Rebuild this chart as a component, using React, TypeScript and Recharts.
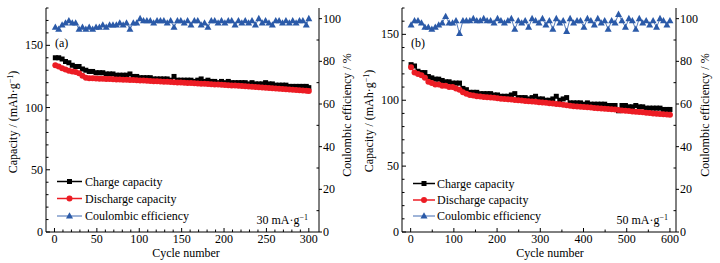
import { LineChart, Line, XAxis, YAxis, Legend } from "recharts";

const FONT = '"Liberation Serif", "Times New Roman", serif';
const INK = "#000000";
const RED = "#ec1c24";
const BLUE = "#2b5aa8";

// ---- (a) 30 mA/g, 300 cycles (every 4th cycle)
const cyclesA = [
  1, 5, 9, 13, 17, 21, 25, 29, 33, 37, 41, 45, 49, 53, 57, 61, 65, 69, 73, 77,
  81, 85, 89, 93, 97, 101, 105, 109, 113, 117, 121, 125, 129, 133, 137, 141, 145, 149, 153, 157,
  161, 165, 169, 173, 177, 181, 185, 189, 193, 197, 201, 205, 209, 213, 217, 221, 225, 229, 233, 237,
  241, 245, 249, 253, 257, 261, 265, 269, 273, 277, 281, 285, 289, 293, 297, 300,
];
const chargeA = [
  140, 140, 139, 137, 136, 134, 133, 133, 131, 130,
  129, 129, 128, 128, 128, 127, 127, 127, 126, 126,
  126, 126, 127, 125, 125, 124, 124, 124, 124, 123,
  123, 123, 123, 123, 122, 125, 122, 122, 122, 122,
  122, 121, 122, 123, 121, 122, 121, 121, 120, 121,
  120, 121, 120, 120, 120, 120, 120, 119, 120, 119,
  119, 119, 120, 119, 119, 118, 118, 118, 118, 117,
  117, 117, 117, 117, 117, 116,
];
const dischargeA = [
  134, 133, 131.5, 130.5, 129.5, 129, 128.5, 127.5, 125.5, 124,
  123.6, 123.5, 123.3, 123.2, 123.1, 123, 122.9, 122.8, 122.6, 122.5,
  122.4, 122.3, 122.2, 122.1, 122, 121.8, 121.7, 121.5, 121.4, 121.2,
  121.1, 121, 120.8, 120.7, 120.5, 120.4, 120.2, 120.1, 120, 119.8,
  119.7, 119.5, 119.4, 119.2, 119.1, 119, 118.8, 118.6, 118.5, 118.3,
  118.2, 118, 117.8, 117.7, 117.5, 117.3, 117.2, 117, 116.8, 116.6,
  116.4, 116.2, 116, 115.8, 115.6, 115.4, 115.2, 115, 114.8, 114.6,
  114.4, 114.2, 114, 113.8, 113.6, 113.4,
];
const ceA = [
  96, 95, 97, 98, 99, 98, 98, 95, 96, 95,
  96, 95, 96, 96, 97, 96, 97, 97, 97, 98,
  97, 98, 95, 98, 98, 100, 99, 99, 99, 98,
  99, 99, 99, 98, 99, 96, 99, 99, 98, 99,
  97, 99, 99, 97, 98, 96, 99, 99, 98, 99,
  98, 99, 99, 97, 99, 98, 99, 98, 99, 97,
  100, 98, 99, 98, 97, 99, 99, 98, 99, 98,
  99, 98, 99, 99, 97, 100,
];

// ---- (b) 50 mA/g, 600 cycles (every 8th cycle)
const cyclesB = [
  1, 9, 17, 25, 33, 41, 49, 57, 65, 73, 81, 89, 97, 105, 113, 121, 129, 137, 145, 153,
  161, 169, 177, 185, 193, 201, 209, 217, 225, 233, 241, 249, 257, 265, 273, 281, 289, 297, 305, 313,
  321, 329, 337, 345, 353, 361, 369, 377, 385, 393, 401, 409, 417, 425, 433, 441, 449, 457, 465, 473,
  481, 489, 497, 505, 513, 521, 529, 537, 545, 553, 561, 569, 577, 585, 593, 600,
];
const chargeB = [
  127, 126, 122, 121, 121, 118, 117, 116, 116, 115,
  114, 114, 113, 113, 113, 109, 108, 106, 106, 106,
  105, 105, 105, 105, 104, 104, 103, 103, 103, 104,
  105, 102, 102, 102, 101, 102, 103, 101, 101, 100,
  100, 101, 103, 100, 101, 102, 98, 98, 98, 98,
  97, 98, 97, 97, 97, 97, 97, 96, 96, 96,
  92, 96, 96, 95, 95, 96, 95, 95, 94, 94,
  94, 94, 94, 93, 93, 93,
];
const dischargeB = [
  125, 121, 120, 119, 117, 114, 113, 112, 112, 111,
  111, 110, 110, 109, 108, 106, 105, 104, 103.5, 103,
  102.8, 102.5, 102.2, 102, 101.8, 101.5, 101.2, 101, 100.7, 100.5,
  100.2, 100, 99.8, 99.5, 99.2, 99, 98.8, 98.5, 98.2, 98,
  97.8, 97.5, 97.2, 97, 96.6, 96.2, 95.8, 95.5, 95.2, 95,
  94.8, 94.6, 94.4, 94.2, 94, 93.8, 93.6, 93.4, 93.2, 93,
  92.5, 92.2, 92, 91.8, 91.5, 91.3, 91, 90.8, 90.5, 90.3,
  90, 89.8, 89.6, 89.4, 89.1, 88.9,
];
const ceB = [
  97, 99, 99, 98, 96, 96, 95, 96, 97, 98,
  101, 98, 98, 99, 93, 99, 99, 99, 100, 99,
  99, 100, 99, 99, 98, 100, 99, 98, 99, 100,
  95, 99, 98, 99, 96, 100, 99, 98, 100, 97,
  99, 95, 100, 98, 99, 94, 100, 98, 99, 99,
  96, 100, 99, 97, 100, 98, 99, 95, 99, 98,
  102, 99, 96, 100, 99, 95, 100, 98, 99, 97,
  99, 96, 100, 99, 97, 99,
];

// ---- axis ticks (minor ones carry no label)
const xTicksA = [
  0, 10, 20, 30, 40, 50, 60, 70, 80, 90, 100, 110, 120, 130, 140, 150,
  160, 170, 180, 190, 200, 210, 220, 230, 240, 250, 260, 270, 280, 290, 300,
];
const xTicksB = [0, 50, 100, 150, 200, 250, 300, 350, 400, 450, 500, 550, 600];
const capTicksA = [0, 10, 20, 30, 40, 50, 60, 70, 80, 90, 100, 110, 120, 130, 140, 150, 160, 170, 180];
const capTicksB = [0, 10, 20, 30, 40, 50, 60, 70, 80, 90, 100, 110, 120, 130, 140, 150, 160, 170];
const ceTicks = [0, 10, 20, 30, 40, 50, 60, 70, 80, 90, 100];

const seriesNames = ["Charge capacity", "Discharge capacity", "Coulombic efficiency"];

type TickProps = { x?: number; y?: number; payload?: { value: number }; step: number };

function LeftTick({ x = 0, y = 0, payload, step }: TickProps) {
  const v = payload?.value ?? 0;
  const major = v % step === 0;
  return (
    <g>
      <line x1={x} x2={x + (major ? 4 : 2.5)} y1={y} y2={y} stroke={INK} />
      {major && (
        <text x={x - 3} y={y + 4} textAnchor="end" fontSize={12} fontFamily={FONT} fill={INK}>
          {v}
        </text>
      )}
    </g>
  );
}

function RightTick({ x = 0, y = 0, payload, step }: TickProps) {
  const v = payload?.value ?? 0;
  const major = v % step === 0;
  return (
    <g>
      {major ? (
        <line x1={x} x2={x + 3} y1={y} y2={y} stroke={INK} />
      ) : (
        <line x1={x} x2={x - 2.5} y1={y} y2={y} stroke={INK} />
      )}
      {major && (
        <text x={x + 4} y={y + 4} textAnchor="start" fontSize={12} fontFamily={FONT} fill={INK}>
          {v}
        </text>
      )}
    </g>
  );
}

function BottomTick({ x = 0, y = 0, payload, step }: TickProps) {
  const v = payload?.value ?? 0;
  const major = v % step === 0;
  return (
    <g>
      <line x1={x} x2={x} y1={y} y2={y - (major ? 4 : 2.5)} stroke={INK} />
      {major && (
        <text x={x} y={y + 11} textAnchor="middle" fontSize={12} fontFamily={FONT} fill={INK}>
          {v}
        </text>
      )}
    </g>
  );
}

function YTitle({ cx, cy, parts }: { cx: number; cy: number; parts: string[] }) {
  return (
    <text
      x={cx}
      y={cy}
      transform={`rotate(-90 ${cx} ${cy})`}
      textAnchor="middle"
      fontSize={12}
      fontFamily={FONT}
      fill={INK}
    >
      {parts[0]}
      {parts[1] && (
        <tspan dy={-4} fontSize={8}>
          {parts[1]}
        </tspan>
      )}
      {parts[2] && <tspan dy={4}>{parts[2]}</tspan>}
    </text>
  );
}

function XTitle({ viewBox, dx }: { viewBox?: { x: number; y: number; width: number }; dx: number }) {
  if (!viewBox) return null;
  return (
    <text
      x={viewBox.x + viewBox.width / 2 + dx}
      y={viewBox.y + 25}
      textAnchor="middle"
      fontSize={12}
      fontFamily={FONT}
      fill={INK}
    >
      Cycle number
    </text>
  );
}

const Square = ({ cx, cy }: { cx: number; cy: number }) => (
  <rect x={cx - 2.5} y={cy - 2.5} width={5} height={5} fill={INK} />
);
const Dot = ({ cx, cy }: { cx: number; cy: number }) => <circle cx={cx} cy={cy} r={3} fill={RED} />;
const Tri = ({ cx, cy }: { cx: number; cy: number }) => (
  <polygon points={`${cx},${cy - 3.8} ${cx - 3.5},${cy + 2.5} ${cx + 3.5},${cy + 2.5}`} fill={BLUE} />
);

type LegendCfg = { left: number; top: number; rows: number[]; line: [number, number]; textX: number };

function LegendRows({ cfg }: { cfg: LegendCfg }) {
  const [l0, l1] = cfg.line;
  const mid = (l0 + l1) / 2;
  const marks = [
    <Square key="m0" cx={mid} cy={cfg.rows[0]} />,
    <Dot key="m1" cx={mid} cy={cfg.rows[1]} />,
    <Tri key="m2" cx={mid} cy={cfg.rows[2]} />,
  ];
  const colors = [INK, RED, BLUE];
  return (
    <svg width={160} height={54} style={{ display: "block" }}>
      {seriesNames.map((name, i) => (
        <g key={name}>
          <line
            x1={l0}
            x2={l1}
            y1={cfg.rows[i]}
            y2={cfg.rows[i]}
            stroke={colors[i]}
            strokeWidth={i === 2 ? 0.9 : 1.5}
          />
          {marks[i]}
          <text x={cfg.textX} y={cfg.rows[i] + 4} fontSize={12} fontFamily={FONT} fill={INK}>
            {name}
          </text>
        </g>
      ))}
    </svg>
  );
}

type PanelProps = {
  cycles: number[];
  charge: number[];
  discharge: number[];
  ce: number[];
  xDomain: [number, number];
  xTicks: number[];
  xStep: number;
  capMax: number;
  capTicks: number[];
  tag: string;
  rate: string;
  leftW: number;
  rightW: number;
  xTitleDx: number;
  leftTitle: [number, number];
  rightTitle: [number, number];
  legend: LegendCfg;
};

function Panel(p: PanelProps) {
  const data = p.cycles.map((c, i) => ({
    cycle: c,
    charge: p.charge[i],
    discharge: p.discharge[i],
    ce: p.ce[i],
  }));
  return (
    <LineChart width={360} height={263} data={data} margin={{ top: 8, right: 0, bottom: 0, left: 0 }}>
      <XAxis
        xAxisId="x"
        dataKey="cycle"
        type="number"
        domain={p.xDomain}
        ticks={p.xTicks}
        interval={0}
        height={31}
        tickSize={0}
        tickMargin={0}
        tickLine={false}
        tick={<BottomTick step={p.xStep} />}
        axisLine={{ stroke: INK }}
        label={<XTitle dx={p.xTitleDx} />}
      />
      <XAxis
        xAxisId="top"
        orientation="top"
        dataKey="cycle"
        type="number"
        domain={p.xDomain}
        height={0}
        tick={false}
        tickLine={false}
        axisLine={{ stroke: INK }}
      />
      <YAxis
        yAxisId="cap"
        orientation="left"
        type="number"
        width={p.leftW}
        domain={[0, p.capMax]}
        ticks={p.capTicks}
        interval={0}
        tickSize={0}
        tickMargin={0}
        tickLine={false}
        tick={<LeftTick step={50} />}
        axisLine={{ stroke: INK }}
        label={<YTitle cx={p.leftTitle[0]} cy={p.leftTitle[1]} parts={["Capacity / (mAh·g", "−1", ")"]} />}
      />
      <YAxis
        yAxisId="ce"
        orientation="right"
        type="number"
        width={p.rightW}
        domain={[0, 105]}
        ticks={ceTicks}
        interval={0}
        tickSize={0}
        tickMargin={0}
        tickLine={false}
        tick={<RightTick step={20} />}
        axisLine={{ stroke: INK }}
        label={<YTitle cx={p.rightTitle[0]} cy={p.rightTitle[1]} parts={["Coulombic efficiency / %"]} />}
      />
      <Line
        xAxisId="x"
        yAxisId="cap"
        dataKey="charge"
        name={seriesNames[0]}
        stroke={INK}
        strokeWidth={1.2}
        dot={(d: any) => <Square key={`c${d.index}`} cx={d.cx} cy={d.cy} />}
        activeDot={false}
        isAnimationActive={false}
      />
      <Line
        xAxisId="x"
        yAxisId="cap"
        dataKey="discharge"
        name={seriesNames[1]}
        stroke={RED}
        strokeWidth={1.2}
        dot={(d: any) => <Dot key={`d${d.index}`} cx={d.cx} cy={d.cy} />}
        activeDot={false}
        isAnimationActive={false}
      />
      <Line
        xAxisId="x"
        yAxisId="ce"
        dataKey="ce"
        name={seriesNames[2]}
        stroke={BLUE}
        strokeWidth={0.8}
        dot={(d: any) => <Tri key={`e${d.index}`} cx={d.cx} cy={d.cy} />}
        activeDot={false}
        isAnimationActive={false}
      />
      <Legend
        layout="vertical"
        align="center"
        verticalAlign="middle"
        wrapperStyle={{ left: p.legend.left, top: p.legend.top, width: "auto", height: "auto" }}
        content={() => <LegendRows cfg={p.legend} />}
      />
      <text x={p.leftW + 9} y={47} fontSize={12} fontFamily={FONT} fill={INK}>
        {p.tag}
      </text>
      <text x={308} y={224} textAnchor="end" fontSize={12} fontFamily={FONT} fill={INK}>
        {p.rate}
        <tspan dy={-4} fontSize={8}>
          −1
        </tspan>
      </text>
    </LineChart>
  );
}

export default function App() {
  return (
    <div
      style={{
        position: "absolute",
        left: 0,
        top: 0,
        width: 720,
        height: 263,
        background: "#fff",
        display: "flex",
        fontFamily: FONT,
      }}
    >
      <Panel
        cycles={cyclesA}
        charge={chargeA}
        discharge={dischargeA}
        ce={ceA}
        xDomain={[-10, 312]}
        xTicks={xTicksA}
        xStep={50}
        capMax={180}
        capTicks={capTicksA}
        tag="(a)"
        rate="30 mA·g"
        leftW={46}
        rightW={41}
        xTitleDx={3.5}
        leftTitle={[17, 122]}
        rightTitle={[351, 115]}
        legend={{ left: 55, top: 172, rows: [9.5, 26.5, 44], line: [2, 27], textX: 30 }}
      />
      <Panel
        cycles={cyclesB}
        charge={chargeB}
        discharge={dischargeB}
        ce={ceB}
        xDomain={[-20, 614]}
        xTicks={xTicksB}
        xStep={100}
        capMax={170}
        capTicks={capTicksB}
        tag="(b)"
        rate="50 mA·g"
        leftW={42}
        rightW={44}
        xTitleDx={11}
        leftTitle={[12.5, 121]}
        rightTitle={[349, 115]}
        legend={{ left: 50, top: 172, rows: [11.5, 28, 44], line: [3, 25], textX: 27 }}
      />
    </div>
  );
}
